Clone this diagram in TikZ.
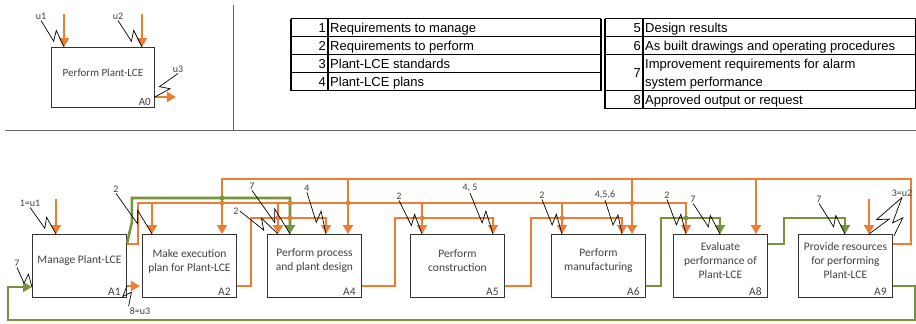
\documentclass[tikz,border=0pt]{standalone}
\usepackage{fontspec}
\setmainfont{Carlito}
\newfontfamily\tabfont{Liberation Sans}
\usetikzlibrary{calc,arrows.meta}
\definecolor{orng}{HTML}{ED7D31}
\definecolor{grn}{HTML}{77933C}
\definecolor{boxtxt}{HTML}{404040}
\tikzset{
 box/.style={draw=black!80, line width=0.9pt, minimum width=94pt, minimum height=63pt, inner sep=0pt, anchor=north west},
 btxt/.style={font=\fontsize{11.5}{14}\selectfont, text=boxtxt, align=center},
 aid/.style={font=\fontsize{11.5}{12}\selectfont, text=boxtxt, anchor=south east, inner sep=1pt},
 lab/.style={font=\fontsize{10}{11}\selectfont, text=boxtxt, inner sep=1pt},
 oline/.style={draw=orng, line width=2.8pt},
 gline/.style={draw=grn, line width=2.6pt},
 oarr/.style={oline, -{Triangle[width=10pt,length=9pt]}},
 garr/.style={gline, -{Triangle[width=10pt,length=9pt]}},
 sq/.style={draw=black, line width=0.7pt},
 tline/.style={draw=black, line width=1.3pt},
 sepline/.style={draw=black!60, line width=1pt},
 ttxt/.style={font=\tabfont\fontsize{13}{15}\selectfont, inner sep=0pt},
 odot/.style={fill=orng},
 gdot/.style={fill=grn},
}
\newcommand\squig[2]{\draw[sq] (#1) -- ($(#1)!0.68!(#2)!4pt!-90:(#2)$) -- ($(#1)!0.5!(#2)!5pt!90:(#2)$) -- (#2);}
\begin{document}
\begin{tikzpicture}[x=1pt,y=-1pt]
\useasboundingbox (0,0) rectangle (916,324);
% separators
\draw[sepline] (233,5) -- (233,130);
\draw[sepline] (5,130) -- (916,130);

% ---------- A0 context ----------
\node[box, minimum width=103pt, minimum height=60pt] (A0) at (51,47) {};
\node[btxt, font=\fontsize{11}{13}\selectfont] (A0t) at ([yshift=5pt]A0.center) {Perform Plant-LCE};
\node[aid, font=\fontsize{11}{12}\selectfont] (A0id) at ([xshift=-3pt,yshift=1pt]A0.south east) {A0};
\coordinate (A0i1) at ([xshift=13pt]A0.north west);
\coordinate (A0i2) at ([xshift=91pt]A0.north west);
\coordinate (A0o) at ([yshift=-50pt]A0.north east);
\draw[oarr] ([yshift=33pt]A0i1) -- (A0i1);
\draw[oarr] ([yshift=33pt]A0i2) -- (A0i2);
\draw[oarr] (A0o) -- ++(21,0);
\node[lab] (lu1) at (41,16) {u1};
\node[lab] (lu2) at (118,16) {u2};
\node[lab] (lu3) at (178,69) {u3};
\squig{lu1.south}{A0i1}
\squig{lu2.south}{A0i2}
\squig{lu3.south}{A0o}

% ---------- table ----------
\foreach \yy in {18.5,36.5,54.5,72.5,90.5} \draw[tline] (291,\yy) -- (601,\yy);
\foreach \xx in {291,328,601} \draw[tline] (\xx,18.5) -- (\xx,90.5);
\foreach \yy in {18.5,36.5,54.5,90.5,108.5} \draw[tline] (605,\yy) -- (916,\yy);
\foreach \xx in {605,643,915.4} \draw[tline] (\xx,18.5) -- (\xx,108.5);
\node[ttxt, anchor=base east] (n1) at (326,32) {1};
\node[ttxt, anchor=base west] (t1) at (330,32) {Requirements to manage};
\node[ttxt, anchor=base east] (n2) at (326,50) {2};
\node[ttxt, anchor=base west] (t2) at (330,50) {Requirements to perform};
\node[ttxt, anchor=base east] (n3) at (326,68) {3};
\node[ttxt, anchor=base west] (t3) at (330,68) {Plant-LCE standards};
\node[ttxt, anchor=base east] (n4) at (326,86) {4};
\node[ttxt, anchor=base west] (t4) at (330,86) {Plant-LCE plans};
\node[ttxt, anchor=base east] (n5) at (641,32) {5};
\node[ttxt, anchor=base west] (t5) at (645,32) {Design results};
\node[ttxt, anchor=base east] (n6) at (641,50) {6};
\node[ttxt, anchor=base west] (t6) at (645,50) {As built drawings and operating procedures};
\node[ttxt, anchor=base east] (n7) at (641,77) {7};
\node[ttxt, anchor=base west] (t7a) at (645,68) {Improvement requirements for alarm};
\node[ttxt, anchor=base west] (t7b) at (645,86) {system performance};
\node[ttxt, anchor=base east] (n8) at (641,104) {8};
\node[ttxt, anchor=base west] (t8) at (645,104) {Approved output or request};

% ---------- boxes ----------
\node[box] (A1) at (32,234) {};
\node[box] (A2) at (142,234) {};
\node[box] (A4) at (267,234) {};
\node[box] (A5) at (410,234) {};
\node[box] (A6) at (551,234) {};
\node[box] (A8) at (673,234) {};
\node[box] (A9) at (798,234) {};
\node[btxt] (A1t) at ([yshift=5pt]A1.center) {Manage Plant-LCE};
\node[btxt] (A2t) at ([yshift=5pt]A2.center) {Make execution\\plan for Plant-LCE};
\node[btxt] (A4t) at ([yshift=5pt]A4.center) {Perform process\\and plant design};
\node[btxt] (A5t) at ([yshift=5pt]A5.center) {Perform\\construction};
\node[btxt] (A6t) at ([yshift=5pt]A6.center) {Perform\\manufacturing};
\node[btxt] (A8t) at ([yshift=5pt]A8.center) {Evaluate\\performance of\\Plant-LCE};
\node[btxt] (A9t) at ([yshift=5pt]A9.center) {Provide resources\\for performing\\Plant-LCE};
\foreach \b in {A1,A2,A4,A5,A6,A8,A9}
  \node[aid] (\b id) at ([xshift=-5pt,yshift=1pt]\b.south east) {\b};

% input points
\coordinate (A1i1) at ([xshift=24pt]A1.north west);
\coordinate (A2i1) at ([xshift=10pt]A2.north west);
\coordinate (A2i2) at ([xshift=80pt]A2.north west);
\coordinate (A4i1) at ([xshift=11pt]A4.north west);
\coordinate (A4i2) at ([xshift=23pt]A4.north west);
\coordinate (A4i3) at ([xshift=59pt]A4.north west);
\coordinate (A4i4) at ([xshift=81pt]A4.north west);
\coordinate (A5i1) at ([xshift=12pt]A5.north west);
\coordinate (A5i2) at ([xshift=83pt]A5.north west);
\coordinate (A6i1) at ([xshift=11pt]A6.north west);
\coordinate (A6i2) at ([xshift=71pt]A6.north west);
\coordinate (A6i3) at ([xshift=81pt]A6.north west);
\coordinate (A8i1) at ([xshift=13pt]A8.north west);
\coordinate (A8i2) at ([xshift=47pt]A8.north west);
\coordinate (A8i3) at ([xshift=83pt]A8.north west);
\coordinate (A9i1) at ([xshift=47pt]A9.north west);
\coordinate (A9i2) at ([xshift=71pt]A9.north west);
\coordinate (A1w) at ([yshift=-53pt]A1.north west);
% levels
\coordinate (yT) at (0,179);
\coordinate (yG) at (0,198);
\coordinate (yR) at (0,203);
\coordinate (yP) at (0,218);

% ---------- connectors ----------
% A9 output (3) along the top
\draw[oarr] ([yshift=-10pt]A9.north east) -- ++(18,0) |- (yT -| A2i2) -- (A2i2);
\draw[oarr] (yT -| A4i4) -- (A4i4);
\draw[oarr] (yT -| A6i3) -- (A6i3);
\draw[oarr] (yT -| A8i3) -- (A8i3);
% A1 output (2)
\draw[oarr] ([yshift=-10pt]A1.north east) -- ++(11,0) |- (yR -| A8i1) -- (A8i1);
\draw[oarr] (yR -| A2i1) -- (A2i1);
\draw[oarr] (yR -| A4i1) -- (A4i1);
\draw[oarr] (yR -| A5i1) -- (A5i1);
\draw[oarr] (yR -| A6i1) -- (A6i1);
% A1 output (7)
\draw[garr] ([yshift=-10pt]A1.north east) -- ++(5,-22) |- (yG -| A4i2) -- (A4i2);
% A2 output (4)
\draw[oarr] ([yshift=-52pt]A2.north east) -- ++(14,0) |- (yP -| A4i3) -- (A4i3);
% A4 output
\draw[oarr] ([yshift=-52pt]A4.north east) -- ++(33,0) |- (yP -| A5i2) -- (A5i2);
% A5 output
\draw[oarr] ([yshift=-52pt]A5.north east) -- ++(26,0) |- (yP -| A6i2) -- (A6i2);
% A6 output
\draw[garr] ([yshift=-52pt]A6.north east) -- ++(15,0) |- (yP -| A8i2) -- (A8i2);
% A8 output
\draw[garr] ([yshift=-10pt]A8.north east) -- ++(16,0) |- (yP -| A9i1) -- (A9i1);
% A9 external input
\draw[oarr] ([yshift=35pt]A9i2) -- (A9i2);
% A1 external input
\draw[oarr] ([yshift=35pt]A1i1) -- (A1i1);
% feedback A9 -> A1
\draw[garr] ([yshift=-52pt]A9.north east) -- ++(22,0) -- ++(0,34) -| ([xshift=-24pt]A1w) -- (A1w);
% A1 output 8=u3
\coordinate (A1o8) at ([yshift=-52pt]A1.north east);
\draw[oarr] (A1o8) -- ++(13,0);

% junction dots
\fill[gdot] (yG -| A2i2) circle (2.4pt);
\fill[odot] (yR -| A2i2) circle (2.4pt);
\fill[odot] (yR -| A4i2) circle (2.4pt);
\fill[odot] (yP -| A4i1) circle (2.4pt);
\fill[odot] (yP -| A4i2) circle (2.4pt);
\fill[odot] (yR -| A4i4) circle (2.4pt);
\fill[odot] (yP -| A5i1) circle (2.4pt);
\fill[odot] (yP -| A6i1) circle (2.4pt);
\fill[odot] (yR -| A6i3) circle (2.4pt);
\fill[gdot] (yP -| A8i1) circle (2.4pt);

% labels and squiggles
\node[lab] (L1) at (30,203) {1=u1};
\node[lab] (L7a) at (17,263) {7};
\node[lab] (L8) at (140,311) {8=u3};
\node[lab] (L2a) at (116,189) {2};
\node[lab] (L7b) at (252,186) {7};
\node[lab] (L2b) at (236,211) {2};
\node[lab] (L4) at (307,188) {4};
\node[lab] (L2c) at (399,196) {2};
\node[lab] (L45) at (470,188) {4, 5};
\node[lab] (L2d) at (542,195) {2};
\node[lab] (L456) at (605,195) {4,5,6};
\node[lab] (L2e) at (667,195) {2};
\node[lab] (L7c) at (693,199) {7};
\node[lab] (L7d) at (819,199) {7};
\node[lab] (L3) at (902,193) {3=u2};
\squig{L1.south}{A1i1}
\squig{L7a.south}{A1w}
\squig{L8.north west}{A1o8}
\squig{L2a.south}{A2i1}
\squig{L7b.south}{A4i2}
\squig{L2b.east}{A4i1}
\squig{L4.south}{A4i3}
\squig{L2c.south}{A5i1}
\squig{L45.south}{A5i2}
\squig{L2d.south}{A6i1}
\squig{L456.south}{A6i2}
\squig{L2e.south}{A8i1}
\squig{L7c.south}{A8i2}
\squig{L7d.south}{A9i1}
\squig{L3.south}{A9i2}
\coordinate (A9c) at ([xshift=1pt,yshift=-2pt]A9.north east);
\squig{L3.south}{A9c}
\end{tikzpicture}
\end{document}
